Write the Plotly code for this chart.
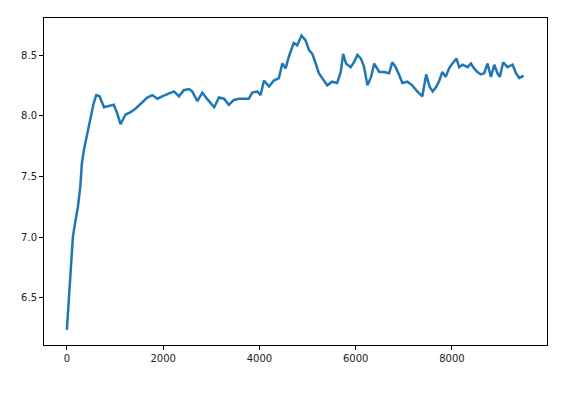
import plotly.graph_objects as go

steps = [0, 42, 125, 160, 230, 280, 312, 355, 405, 458, 507, 555, 610, 680, 770, 870, 975,
         1045, 1115, 1220, 1325, 1430, 1530, 1670, 1775, 1880, 1980, 2120, 2225, 2330, 2430,
         2535, 2605, 2710, 2815, 2930, 3060, 3160, 3265, 3365, 3470, 3575, 3680, 3780, 3850,
         3955, 4025, 4095, 4200, 4300, 4405, 4475, 4545, 4615, 4715, 4785, 4875, 4960, 5030,
         5100, 5170, 5235, 5340, 5410, 5510, 5615, 5690, 5740, 5800, 5895, 5965, 6035, 6110,
         6175, 6245, 6320, 6385, 6490, 6590, 6695, 6760, 6830, 6900, 6970, 7075, 7175, 7280,
         7385, 7465, 7535, 7600, 7660, 7730, 7800, 7870, 7940, 8010, 8095, 8150, 8220, 8325,
         8395, 8460, 8530, 8600, 8670, 8740, 8810, 8880, 8945, 8995, 9065, 9155, 9260, 9330,
         9400, 9490]
values = [6.235, 6.48, 7.00, 7.09, 7.25, 7.42, 7.61, 7.72, 7.81, 7.91, 7.99, 8.10, 8.17, 8.16,
          8.07, 8.08, 8.09, 8.02, 7.93, 8.01, 8.03, 8.06, 8.10, 8.15, 8.17, 8.14, 8.16, 8.18,
          8.20, 8.16, 8.21, 8.22, 8.20, 8.12, 8.19, 8.13, 8.07, 8.15, 8.14, 8.09, 8.13, 8.14,
          8.14, 8.14, 8.19, 8.20, 8.17, 8.29, 8.24, 8.29, 8.31, 8.43, 8.39, 8.49, 8.60, 8.58,
          8.66, 8.62, 8.54, 8.51, 8.43, 8.35, 8.29, 8.25, 8.28, 8.27, 8.36, 8.51, 8.43, 8.40,
          8.44, 8.50, 8.47, 8.40, 8.25, 8.32, 8.43, 8.36, 8.36, 8.35, 8.44, 8.40, 8.34, 8.27,
          8.28, 8.25, 8.20, 8.16, 8.34, 8.24, 8.20, 8.23, 8.28, 8.36, 8.32, 8.39, 8.43, 8.47,
          8.40, 8.42, 8.40, 8.43, 8.39, 8.36, 8.34, 8.35, 8.43, 8.32, 8.42, 8.35, 8.32, 8.44,
          8.40, 8.42, 8.35, 8.31, 8.33]

x_ticks = [0, 2000, 4000, 6000, 8000]
y_ticks = [6.5, 7.0, 7.5, 8.0, 8.5]
y_tick_labels = ["6.5", "7.0", "7.5", "8.0", "8.5"]

fig = go.Figure()
fig.add_trace(go.Scatter(x=steps, y=values, mode="lines",
                         line=dict(color="#1f77b4", width=2.5), showlegend=False))

axis_common = dict(showgrid=False, zeroline=False, showline=True, mirror=True,
                   linecolor="black", linewidth=1, ticks="outside", ticklen=4,
                   tickwidth=1, tickcolor="black",
                   tickfont=dict(family="DejaVu Sans", size=10, color="#222"))

fig.update_layout(
    width=588, height=397,
    margin=dict(l=44, r=41, t=18, b=52),
    paper_bgcolor="white", plot_bgcolor="white",
    xaxis=dict(range=[-475, 9975], tickvals=x_ticks, **axis_common),
    yaxis=dict(range=[6.111, 8.805], tickvals=y_ticks, ticktext=y_tick_labels, **axis_common),
)

fig.write_html("out.html")
